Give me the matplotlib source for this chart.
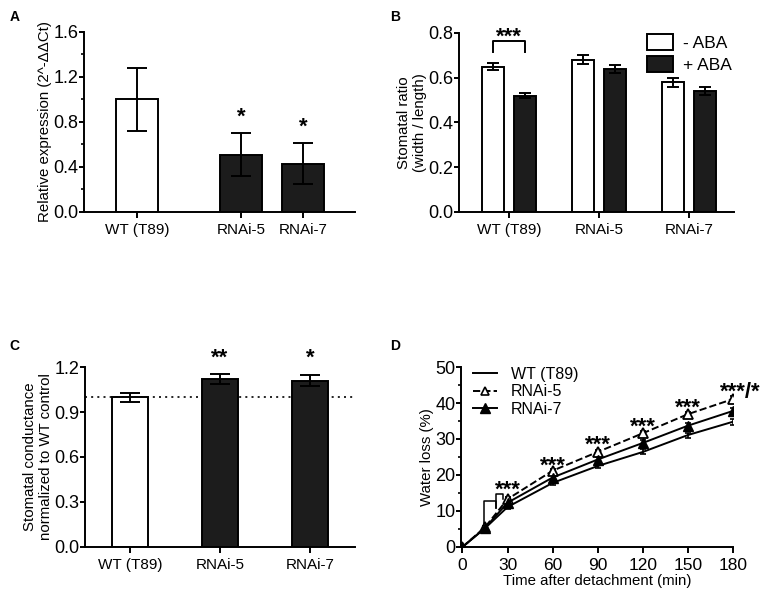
import numpy as np
import matplotlib
matplotlib.use("Agg")
import matplotlib.pyplot as plt
from matplotlib.ticker import MultipleLocator
from matplotlib.lines import Line2D

plt.rcParams['font.family'] = ['Liberation Sans', 'DejaVu Sans']
plt.rcParams['font.size'] = 11
plt.rcParams['axes.linewidth'] = 1.4
plt.rcParams['xtick.major.width'] = 1.4
plt.rcParams['ytick.major.width'] = 1.4
plt.rcParams['ytick.minor.width'] = 1.2
plt.rcParams['xtick.major.size'] = 4
plt.rcParams['ytick.major.size'] = 4
plt.rcParams['ytick.minor.size'] = 2.5

DARK = '#1c1c1c'
YTICK_FS = 13
XTICK_FS = 11
LABEL_FS = 10.8
STAR_FS = 16

# panel A
a_labels = ["WT (T89)", "RNAi-5", "RNAi-7"]
a_values = [1.0, 0.51, 0.43]
a_err = [0.28, 0.19, 0.18]
a_stars = ["", "*", "*"]

# panel B
b_labels = ["WT (T89)", "RNAi-5", "RNAi-7"]
b_minus = [0.65, 0.68, 0.58]
b_minus_err = [0.015, 0.02, 0.02]
b_plus = [0.52, 0.64, 0.54]
b_plus_err = [0.01, 0.017, 0.017]

# panel C
c_labels = ["WT (T89)", "RNAi-5", "RNAi-7"]
c_values = [1.0, 1.12, 1.11]
c_err = [0.03, 0.035, 0.035]
c_stars = ["", "**", "*"]

# panel D
d_time = [0, 15, 30, 60, 90, 120, 150, 180]
d_wt = [0, 5.2, 11.1, 17.8, 22.5, 26.4, 31.1, 34.8]
d_wt_err = [0, 0.3, 0.5, 0.6, 0.6, 0.7, 0.7, 0.8]
d_r5 = [0, 5.5, 13.3, 21.2, 26.4, 31.6, 36.9, 41.1]
d_r5_err = [0, 0.3, 0.5, 0.6, 0.6, 0.7, 0.7, 0.8]
d_r7 = [0, 5.3, 12.3, 19.3, 24.3, 28.9, 33.7, 37.8]
d_r7_err = [0, 0.3, 0.5, 0.6, 0.6, 0.7, 0.7, 0.8]
d_star_x = [30, 60, 90, 120, 150, 185]
d_star_y = [15.8, 22.3, 28.3, 33.3, 38.6, 43.0]
d_star_txt = ["***", "***", "***", "***", "***", "***/*"]

fig = plt.figure(figsize=(7.67, 5.91), dpi=100)

def prism(ax):
    ax.spines['top'].set_visible(False)
    ax.spines['right'].set_visible(False)
    ax.tick_params(direction='out')
    ax.tick_params(axis='y', labelsize=YTICK_FS, pad=0.5, length=3.5)
    ax.tick_params(axis='x', labelsize=XTICK_FS, pad=4)

def stars(ax, x, y, s):
    ax.text(x, y, s, ha='center', va='center', fontsize=STAR_FS,
            fontweight='bold', clip_on=False)

# ---- A ----
axA = fig.add_axes([0.1095, 0.6413, 0.3533, 0.3046])
xa = np.array([0, 1.68, 2.68])
axA.bar(xa, a_values, width=0.67, color=['white', DARK, DARK],
        edgecolor='black', linewidth=1.4, zorder=2)
axA.errorbar(xa, a_values, yerr=a_err, fmt='none', ecolor='black',
             elinewidth=1.4, capsize=7, capthick=1.4, zorder=3)
for x, v, e, s in zip(xa, a_values, a_err, a_stars):
    if s:
        stars(axA, x, v + e + 0.14, s)
axA.set_xlim(-0.855, 3.52)
axA.yaxis.set_minor_locator(MultipleLocator(0.2))
axA.set_yticks([0, 0.4, 0.8, 1.2, 1.6])
axA.set_yticklabels(["0.0", "0.4", "0.8", "1.2", "1.6"])
axA.set_ylim(0, 1.6)
axA.set_xticks(xa)
axA.set_xticklabels(a_labels)
axA.set_ylabel("Relative expression (2^-\u0394\u0394Ct)", fontsize=LABEL_FS, labelpad=1)
prism(axA)
fig.text(0.012, 0.965, "A", fontsize=10, fontweight='bold')

# ---- B ----
axB = fig.add_axes([0.5984, 0.6413, 0.3586, 0.3029])
xb = np.arange(3)
off = 0.18
w = 0.25
axB.bar(xb - off, b_minus, width=w, color='white', edgecolor='black',
        linewidth=1.4, zorder=2, label='- ABA')
axB.bar(xb + off, b_plus, width=w, color=DARK, edgecolor='black',
        linewidth=1.4, zorder=2, label='+ ABA')
axB.errorbar(xb - off, b_minus, yerr=b_minus_err, fmt='none', ecolor='black',
             elinewidth=1.4, capsize=4.5, capthick=1.4, zorder=3)
axB.errorbar(xb + off, b_plus, yerr=b_plus_err, fmt='none', ecolor='black',
             elinewidth=1.4, capsize=4.5, capthick=1.4, zorder=3)
axB.plot([-off, -off, off, off], [0.715, 0.764, 0.764, 0.715], color='black', lw=1.4)
stars(axB, 0, 0.783, "***")
axB.set_xlim(-0.556, 2.5)
axB.set_yticks([0, 0.2, 0.4, 0.6, 0.8])
axB.set_yticklabels(["0.0", "0.2", "0.4", "0.6", "0.8"])
axB.set_ylim(0, 0.8)
axB.set_xticks(xb)
axB.set_xticklabels(b_labels)
axB.set_ylabel("Stomatal ratio\n(width / length)", fontsize=LABEL_FS, labelpad=1)
axB.legend(loc='upper right', bbox_to_anchor=(1.05, 1.08), frameon=False,
           fontsize=12.5, handlelength=1.5, handleheight=1.0,
           handletextpad=0.6, labelspacing=0.3)
prism(axB)
fig.text(0.508, 0.965, "B", fontsize=10, fontweight='bold')

# ---- C ----
axC = fig.add_axes([0.1108, 0.0745, 0.352, 0.3045])
xc = np.arange(3)
axC.bar(xc, c_values, width=0.4, color=['white', DARK, DARK],
        edgecolor='black', linewidth=1.4, zorder=2)
axC.errorbar(xc, c_values, yerr=c_err, fmt='none', ecolor='black',
             elinewidth=1.4, capsize=7, capthick=1.4, zorder=3)
axC.axhline(1.0, color='black', lw=1.2, ls=(0, (1.2, 2.5)), zorder=1)
for x, s in zip(xc, c_stars):
    if s:
        stars(axC, x, 1.26, s)
axC.set_xlim(-0.5, 2.5)
axC.set_yticks([0, 0.3, 0.6, 0.9, 1.2])
axC.set_yticklabels(["0.0", "0.3", "0.6", "0.9", "1.2"])
axC.set_ylim(0, 1.2)
axC.set_xticks(xc)
axC.set_xticklabels(c_labels)
axC.set_ylabel("Stomatal conductance\nnormalized to WT control", fontsize=LABEL_FS, labelpad=1)
prism(axC)
fig.text(0.012, 0.408, "C", fontsize=10, fontweight='bold')

# ---- D ----
axD = fig.add_axes([0.601, 0.0745, 0.3547, 0.3045])
axD.errorbar(d_time, d_wt, yerr=d_wt_err, color='black', lw=1.4,
             capsize=2.5, capthick=1.2, elinewidth=1.2)
axD.errorbar(d_time, d_r5, yerr=d_r5_err, color='black', lw=1.4, ls='--',
             marker='^', ms=7, mfc='white', mec='black', mew=1.3,
             capsize=2.5, capthick=1.2, elinewidth=1.2)
axD.errorbar(d_time, d_r7, yerr=d_r7_err, color='black', lw=1.4,
             marker='^', ms=7, mfc='black', mec='black',
             capsize=2.5, capthick=1.2, elinewidth=1.2)
# stray bracket lines in the original figure
axD.plot([14, 14, 22.5, 22.5], [5.5, 12.8, 12.8, 10.8], color='black', lw=1.1)
axD.plot([22.5, 22.5, 27, 27], [10.8, 14.8, 14.8, 13.2], color='black', lw=1.1)
for x, y, s in zip(d_star_x, d_star_y, d_star_txt):
    stars(axD, x, y, s)
axD.set_xlim(-1, 180)
axD.set_ylim(0, 50)
axD.set_xticks([0, 30, 60, 90, 120, 150, 180])
axD.yaxis.set_major_locator(MultipleLocator(10))
axD.yaxis.set_minor_locator(MultipleLocator(5))
axD.set_xlabel("Time after detachment (min)", fontsize=LABEL_FS, labelpad=1)
axD.set_ylabel("Water loss (%)", fontsize=LABEL_FS, labelpad=1)
handles = [
    Line2D([], [], color='black', lw=1.4),
    Line2D([], [], color='black', lw=1.4, ls='--', marker='^', ms=6,
           mfc='white', mec='black', mew=1.2),
    Line2D([], [], color='black', lw=1.4, marker='^', ms=7, mfc='black'),
]
axD.legend(handles, ["WT (T89)", "RNAi-5", "RNAi-7"], loc='upper left',
           bbox_to_anchor=(-0.01, 1.08), frameon=False, fontsize=11.5,
           handlelength=1.5, handletextpad=0.9, labelspacing=0.15)
prism(axD)
axD.tick_params(axis='x', labelsize=12.5)
fig.text(0.508, 0.408, "D", fontsize=10, fontweight='bold')

fig.savefig("out.png", dpi=100)
